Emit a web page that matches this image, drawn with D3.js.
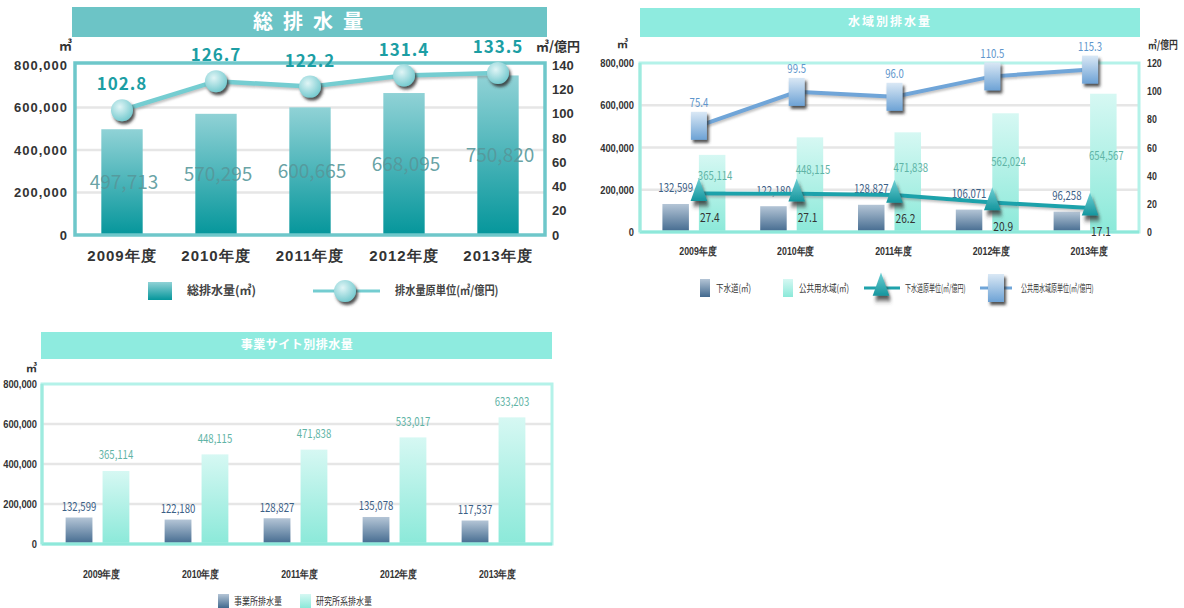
<!DOCTYPE html>
<html>
<head>
<meta charset="utf-8">
<style>
body { margin: 0; background: #fff; }
svg { font-family: "Noto Sans CJK JP", "Noto Sans", sans-serif; }
.grid line { stroke: #e6e6e6; stroke-width: 2.5; }
</style>
</head>
<body>
<script src="https://cdn.jsdelivr.net/npm/d3@7"></script>
<script>

var years = ["2009年度", "2010年度", "2011年度", "2012年度", "2013年度"];

// 総排水量
var totalWater = [497713, 570295, 600665, 668095, 750820];
var totalRatio = [102.8, 126.7, 122.2, 131.4, 133.5];

// 水域別排水量
var sewerWater = [132599, 122180, 128827, 106071, 96258];
var publicWater = [365114, 448115, 471838, 562024, 654567];
var sewerRatio = [27.4, 27.1, 26.2, 20.9, 17.1];
var publicRatio = [75.4, 99.5, 96.0, 110.5, 115.3];

// 事業サイト別排水量
var siteA = [132599, 122180, 128827, 135078, 117537];
var siteB = [365114, 448115, 471838, 533017, 633203];

var volTicks = [0, 200000, 400000, 600000, 800000];
var ratioTicks1 = [0, 20, 40, 60, 80, 100, 120, 140];
var ratioTicks2 = [0, 20, 40, 60, 80, 100, 120];

var fmt = d3.format(",");

var svg = d3.select("body").append("svg")
    .attr("width", 1184)
    .attr("height", 608);

var defs = svg.append("defs");

function vgrad(id, top, bottom) {
  var g = defs.append("linearGradient").attr("id", id)
      .attr("x1", 0).attr("y1", 0).attr("x2", 0).attr("y2", 1);
  g.append("stop").attr("offset", "0%").attr("stop-color", top);
  g.append("stop").attr("offset", "100%").attr("stop-color", bottom);
}
vgrad("tealBar", "#90d2d6", "#05969b");
vgrad("mintBar", "#d6f8f3", "#8be9d9");
vgrad("navyBar", "#b4c5d6", "#42698e");
vgrad("triFill", "#6fd0d4", "#15959d");
vgrad("sqFill", "#dae8f5", "#6da2d5");

var rg = defs.append("radialGradient").attr("id", "ballFill")
    .attr("cx", "40%").attr("cy", "35%").attr("r", "65%");
rg.append("stop").attr("offset", "0%").attr("stop-color", "#e0f5f6");
rg.append("stop").attr("offset", "100%").attr("stop-color", "#78cbd0");

var sh = defs.append("filter").attr("id", "shadow")
    .attr("x", "-50%").attr("y", "-50%").attr("width", "200%").attr("height", "200%");
sh.append("feDropShadow").attr("dx", 2).attr("dy", 3).attr("stdDeviation", 1.5)
    .attr("flood-color", "#333").attr("flood-opacity", 0.85);

var lsh = defs.append("filter").attr("id", "lineShadow")
    .attr("x", "-10%").attr("y", "-50%").attr("width", "120%").attr("height", "200%");
lsh.append("feDropShadow").attr("dx", 1).attr("dy", 2).attr("stdDeviation", 1)
    .attr("flood-color", "#888").attr("flood-opacity", 0.5);

function squeeze(sel, k) {
  sel.each(function() {
    var w = this.getComputedTextLength();
    d3.select(this).attr("textLength", w * k).attr("lengthAdjust", "spacingAndGlyphs");
  });
}

// ---------- chart 1 : 総排水量 ----------
(function() {
  var g = svg.append("g");

  g.append("rect").attr("x", 72).attr("y", 7).attr("width", 475).attr("height", 30)
      .attr("fill", "#6cc4c6");
  g.append("text").attr("x", 313).attr("y", 22).attr("dy", "0.36em")
      .attr("text-anchor", "middle").attr("fill", "#fff")
      .style("font-size", "20px").style("font-weight", "bold").style("letter-spacing", "10px")
      .text("総排水量");

  var x = d3.scaleBand().domain(years).range([75, 545]).paddingInner(0.56).paddingOuter(0.28);
  var y = d3.scaleLinear().domain([0, 800000]).range([235, 65]);
  var y2 = d3.scaleLinear().domain([0, 140]).range([235, 65]);

  g.append("g").attr("class", "grid").selectAll("line")
      .data(volTicks.slice(1, 4)).enter().append("line")
      .attr("x1", 75).attr("x2", 545)
      .attr("y1", function(d) { return y(d); }).attr("y2", function(d) { return y(d); });

  g.selectAll(".bar").data(totalWater).enter().append("rect")
      .attr("class", "bar")
      .attr("x", function(d, i) { return x(years[i]); })
      .attr("width", x.bandwidth())
      .attr("y", function(d) { return y(d); })
      .attr("height", function(d) { return y(0) - y(d); })
      .attr("fill", "url(#tealBar)");

  g.append("rect").attr("x", 75).attr("y", 63).attr("width", 470).attr("height", 172)
      .attr("fill", "none").attr("stroke", "#6ec7ca").attr("stroke-width", 3.5);

  g.selectAll(".vlab").data(totalWater).enter().append("text")
      .attr("x", function(d, i) { return x(years[i]) + x.bandwidth() / 2 + 2; })
      .attr("y", function(d) { return (y(d) + y(0)) / 2; })
      .attr("dy", "0.36em").attr("text-anchor", "middle")
      .attr("fill", "#56979a").attr("fill-opacity", 0.9)
      .style("font-size", "19px")
      .text(function(d) { return fmt(d); });

  var yAxis = d3.axisLeft(y).tickValues(volTicks).tickSize(0).tickPadding(4).tickFormat(fmt);
  var ax = g.append("g").attr("transform", "translate(72,0)").call(yAxis);
  ax.select(".domain").remove();
  ax.selectAll("text").attr("fill", "#333").style("font-size", "13px")
      .style("font-weight", "bold").style("letter-spacing", "1px").attr("font-family", null);

  var yAxis2 = d3.axisRight(y2).tickValues(ratioTicks1).tickSize(0).tickPadding(6);
  var ax2 = g.append("g").attr("transform", "translate(546,0)").call(yAxis2);
  ax2.select(".domain").remove();
  ax2.selectAll("text").attr("fill", "#333").style("font-size", "13px")
      .style("font-weight", "bold").attr("font-family", null);

  var xAxis = d3.axisBottom(x).tickSize(0).tickPadding(0);
  var ax3 = g.append("g").attr("transform", "translate(0,250)").call(xAxis);
  ax3.select(".domain").remove();
  ax3.selectAll("text").attr("fill", "#333").style("font-size", "15px")
      .style("font-weight", "bold").style("letter-spacing", "1px").attr("font-family", null);

  g.append("text").attr("x", 72).attr("y", 50).attr("text-anchor", "end")
      .attr("fill", "#333").style("font-size", "13px").style("font-weight", "bold").text("㎥");
  g.append("text").attr("x", 536).attr("y", 51)
      .attr("fill", "#333").style("font-size", "13px").style("font-weight", "bold").text("㎥/億円");

  var cx = function(i) { return x(years[i]) + x.bandwidth() / 2; };
  var line = d3.line().x(function(d, i) { return cx(i); }).y(function(d) { return y2(d); });
  g.append("path").datum(totalRatio).attr("d", line)
      .attr("fill", "none").attr("stroke", "#74cdd1").attr("stroke-width", 4.5)
      .attr("filter", "url(#lineShadow)");

  g.selectAll(".ball").data(totalRatio).enter().append("circle")
      .attr("cx", function(d, i) { return cx(i); })
      .attr("cy", function(d) { return y2(d); })
      .attr("r", 11).attr("fill", "url(#ballFill)").attr("filter", "url(#shadow)");

  g.selectAll(".rlab").data(totalRatio).enter().append("text")
      .attr("x", function(d, i) { return cx(i); })
      .attr("y", function(d) { return y2(d) - 26; })
      .attr("dy", "0.36em").attr("text-anchor", "middle")
      .attr("fill", "#1c9ea4").style("font-size", "17px").style("font-weight", "bold")
      .style("letter-spacing", "1px")
      .text(function(d) { return d.toFixed(1); });

  // legend
  g.append("rect").attr("x", 148).attr("y", 282).attr("width", 24).attr("height", 18)
      .attr("fill", "url(#tealBar)");
  g.append("text").attr("x", 187).attr("y", 291).attr("dy", "0.36em")
      .attr("fill", "#444").style("font-size", "12px").style("font-weight", "bold")
      .text("総排水量(㎥)");
  g.append("line").attr("x1", 313).attr("x2", 380).attr("y1", 291).attr("y2", 291)
      .attr("stroke", "#74cdd1").attr("stroke-width", 3);
  g.append("circle").attr("cx", 345).attr("cy", 291).attr("r", 11)
      .attr("fill", "url(#ballFill)").attr("filter", "url(#shadow)");
  g.append("text").attr("x", 395).attr("y", 291).attr("dy", "0.36em")
      .attr("fill", "#444").style("font-size", "12px").style("font-weight", "bold")
      .text("排水量原単位(㎥/億円)").call(squeeze, 0.85);
})();

// grouped bar chart helper for charts 2 and 3
function groupedBars(g, cfg) {
  var x0 = d3.scaleBand().domain(years).range(cfg.xr).paddingInner(0.356).paddingOuter(0.178);
  var x1 = d3.scaleBand().domain(["a", "b"]).range([0, x0.bandwidth()]).paddingInner(0.274);
  var y = d3.scaleLinear().domain([0, 800000]).range(cfg.yr);

  g.append("g").attr("class", "grid").selectAll("line")
      .data(volTicks.slice(1, 4)).enter().append("line")
      .attr("x1", cfg.frame[0]).attr("x2", cfg.frame[1])
      .attr("y1", function(d) { return y(d); }).attr("y2", function(d) { return y(d); });

  g.selectAll(".ba").data(cfg.a).enter().append("rect")
      .attr("x", function(d, i) { return x0(years[i]) + x1("a"); })
      .attr("width", x1.bandwidth())
      .attr("y", function(d) { return y(d); })
      .attr("height", function(d) { return y(0) - y(d); })
      .attr("fill", "url(#navyBar)");
  g.selectAll(".bb").data(cfg.b).enter().append("rect")
      .attr("x", function(d, i) { return x0(years[i]) + x1("b"); })
      .attr("width", x1.bandwidth())
      .attr("y", function(d) { return y(d); })
      .attr("height", function(d) { return y(0) - y(d); })
      .attr("fill", "url(#mintBar)");

  var f = cfg.frame;
  g.append("rect").attr("x", f[0]).attr("y", y(800000)).attr("width", f[1] - f[0])
      .attr("height", y(0) - y(800000))
      .attr("fill", "none").attr("stroke", "#b4f2e9").attr("stroke-width", 3);
  g.append("line").attr("x1", f[0]).attr("x2", f[1]).attr("y1", y(0)).attr("y2", y(0))
      .attr("stroke", "#8ee8da").attr("stroke-width", 3);
  g.append("line").attr("x1", f[0]).attr("x2", f[0]).attr("y1", y(800000)).attr("y2", y(0))
      .attr("stroke", "#9eebdf").attr("stroke-width", 3);

  var yAxis = d3.axisLeft(y).tickValues(volTicks).tickSize(0).tickPadding(0).tickFormat(fmt);
  var ax = g.append("g").attr("transform", "translate(" + cfg.axisX + ",0)").call(yAxis);
  ax.select(".domain").remove();
  ax.selectAll("text").attr("fill", "#333").style("font-size", "11px")
      .style("font-weight", "bold").attr("font-family", null).call(squeeze, 0.85);

  var xAxis = d3.axisBottom(x0).tickSize(0).tickPadding(0);
  var ax3 = g.append("g").attr("transform", "translate(4," + cfg.catY + ")").call(xAxis);
  ax3.select(".domain").remove();
  ax3.selectAll("text").attr("fill", "#333").style("font-size", "11px")
      .style("font-weight", "bold").attr("font-family", null).call(squeeze, 0.8);

  return { x0: x0, x1: x1, y: y };
}

// ---------- chart 2 : 水域別排水量 ----------
(function() {
  var g = svg.append("g");

  g.append("rect").attr("x", 640).attr("y", 8).attr("width", 500).attr("height", 29)
      .attr("fill", "#8eebdf");
  g.append("text").attr("x", 890).attr("y", 22).attr("dy", "0.36em")
      .attr("text-anchor", "middle").attr("fill", "#fff")
      .style("font-size", "12px").style("font-weight", "bold").style("letter-spacing", "2px")
      .text("水域別排水量");

  var s = groupedBars(g, {
    xr: [645, 1134], yr: [232, 63], frame: [640, 1139], axisX: 634, catY: 247,
    a: sewerWater, b: publicWater
  });
  var x0 = s.x0, x1 = s.x1, y = s.y;

  var y2 = d3.scaleLinear().domain([0, 120]).range([232, 63]);
  var yAxis2 = d3.axisRight(y2).tickValues(ratioTicks2).tickSize(0).tickPadding(8);
  var ax2 = g.append("g").attr("transform", "translate(1139,0)").call(yAxis2);
  ax2.select(".domain").remove();
  ax2.selectAll("text").attr("fill", "#333").style("font-size", "11px")
      .style("font-weight", "bold").attr("font-family", null).call(squeeze, 0.8);

  g.append("text").attr("x", 628).attr("y", 48).attr("text-anchor", "end")
      .attr("fill", "#333").style("font-size", "11px").style("font-weight", "bold").text("㎥");
  g.append("text").attr("x", 1148).attr("y", 49)
      .attr("fill", "#333").style("font-size", "11px").style("font-weight", "bold")
      .text("㎥/億円").call(squeeze, 0.8);

  // bar labels
  g.selectAll(".la").data(sewerWater).enter().append("text")
      .attr("x", function(d, i) { return x0(years[i]) + x1("a") + x1.bandwidth() / 2; })
      .attr("y", function(d) { return y(d) - 16; })
      .attr("dy", "0.36em").attr("text-anchor", "middle")
      .attr("fill", "#3b6086").style("font-size", "12px")
      .text(function(d) { return fmt(d); }).call(squeeze, 0.8);
  g.selectAll(".lb").data(publicWater).enter().append("text")
      .attr("x", function(d, i) { return x0(years[i]) + x1("b") + x1.bandwidth() / 2 + 3; })
      .attr("y", function(d) { return 0.33 * y(d) + 0.67 * y(220000); })
      .attr("dy", "0.36em").attr("text-anchor", "middle")
      .attr("fill", "#5fb4a6").style("font-size", "12px")
      .text(function(d) { return fmt(d); }).call(squeeze, 0.8);

  var px = function(i) { return x0(years[i]) + x0.bandwidth() / 2 + 5; };

  // public water ratio (blue, squares)
  var lineB = d3.line().x(function(d, i) { return px(i); }).y(function(d) { return y2(d); });
  g.append("path").datum(publicRatio).attr("d", lineB)
      .attr("fill", "none").attr("stroke", "#6fa5d8").attr("stroke-width", 4)
      .attr("filter", "url(#lineShadow)");
  g.selectAll(".sq").data(publicRatio).enter().append("rect")
      .attr("x", function(d, i) { return px(i) - 8; })
      .attr("y", function(d) { return y2(d) - 14; })
      .attr("width", 16).attr("height", 28)
      .attr("fill", "url(#sqFill)").attr("filter", "url(#shadow)");
  g.selectAll(".lsq").data(publicRatio).enter().append("text")
      .attr("x", function(d, i) { return px(i); })
      .attr("y", function(d) { return y2(d) - 23; })
      .attr("dy", "0.36em").attr("text-anchor", "middle")
      .attr("fill", "#5e96cc").style("font-size", "12px")
      .text(function(d) { return d.toFixed(1); }).call(squeeze, 0.8);

  // sewer ratio (teal, triangles)
  var lineA = d3.line().x(function(d, i) { return px(i); }).y(function(d) { return y2(d); });
  g.append("path").datum(sewerRatio).attr("d", lineA)
      .attr("fill", "none").attr("stroke", "#1fa2ab").attr("stroke-width", 4)
      .attr("filter", "url(#lineShadow)");
  var tri = d3.symbol().type(d3.symbolTriangle).size(120);
  g.selectAll(".tri").data(sewerRatio).enter().append("path")
      .attr("d", tri)
      .attr("transform", function(d, i) { return "translate(" + px(i) + "," + y2(d) + ") scale(1,1.6)"; })
      .attr("fill", "url(#triFill)").attr("filter", "url(#shadow)");
  g.selectAll(".ltri").data(sewerRatio).enter().append("text")
      .attr("x", function(d, i) { return px(i) + 1; })
      .attr("y", function(d) { return y2(d) + 24; })
      .attr("dy", "0.36em")
      .attr("fill", "#333").style("font-size", "12px")
      .text(function(d) { return d.toFixed(1); }).call(squeeze, 0.85);

  // legend
  var ly = 288;
  g.append("rect").attr("x", 700).attr("y", ly - 9).attr("width", 10).attr("height", 18)
      .attr("fill", "url(#navyBar)");
  g.append("text").attr("x", 716).attr("y", ly).attr("dy", "0.36em")
      .attr("fill", "#333").style("font-size", "10px").text("下水道(㎥)").call(squeeze, 0.75);
  g.append("rect").attr("x", 783).attr("y", ly - 9).attr("width", 10).attr("height", 18)
      .attr("fill", "url(#mintBar)");
  g.append("text").attr("x", 799).attr("y", ly).attr("dy", "0.36em")
      .attr("fill", "#333").style("font-size", "10px").text("公共用水域(㎥)").call(squeeze, 0.75);
  g.append("line").attr("x1", 864).attr("x2", 900).attr("y1", ly).attr("y2", ly)
      .attr("stroke", "#1fa2ab").attr("stroke-width", 3);
  g.append("path").attr("d", tri)
      .attr("transform", "translate(881," + ly + ") scale(1,1.6)")
      .attr("fill", "url(#triFill)").attr("filter", "url(#shadow)");
  g.append("text").attr("x", 905).attr("y", ly).attr("dy", "0.36em")
      .attr("fill", "#333").style("font-size", "10px").text("下水道原単位(㎥/億円)").call(squeeze, 0.6);
  g.append("line").attr("x1", 980).attr("x2", 1012).attr("y1", ly).attr("y2", ly)
      .attr("stroke", "#6fa5d8").attr("stroke-width", 3);
  g.append("rect").attr("x", 988).attr("y", ly - 14).attr("width", 16).attr("height", 28)
      .attr("fill", "url(#sqFill)").attr("filter", "url(#shadow)");
  g.append("text").attr("x", 1021).attr("y", ly).attr("dy", "0.36em")
      .attr("fill", "#333").style("font-size", "10px").text("公共用水域原単位(㎥/億円)").call(squeeze, 0.6);
})();

// ---------- chart 3 : 事業サイト別排水量 ----------
(function() {
  var g = svg.append("g");

  g.append("rect").attr("x", 41).attr("y", 332).attr("width", 511).attr("height", 27)
      .attr("fill", "#8eebdf");
  g.append("text").attr("x", 297).attr("y", 345).attr("dy", "0.36em")
      .attr("text-anchor", "middle").attr("fill", "#fff")
      .style("font-size", "12px").style("font-weight", "bold").style("letter-spacing", "0.5px")
      .text("事業サイト別排水量");

  var s = groupedBars(g, {
    xr: [48, 543], yr: [544, 384], frame: [42, 552], axisX: 37, catY: 570,
    a: siteA, b: siteB
  });
  var x0 = s.x0, x1 = s.x1, y = s.y;

  g.append("text").attr("x", 37).attr("y", 372).attr("text-anchor", "end")
      .attr("fill", "#333").style("font-size", "11px").style("font-weight", "bold").text("㎥");

  g.selectAll(".la").data(siteA).enter().append("text")
      .attr("x", function(d, i) { return x0(years[i]) + x1("a") + x1.bandwidth() / 2; })
      .attr("y", function(d) { return y(d) - 11; })
      .attr("dy", "0.36em").attr("text-anchor", "middle")
      .attr("fill", "#3b6086").style("font-size", "12px")
      .text(function(d) { return fmt(d); }).call(squeeze, 0.8);
  g.selectAll(".lb").data(siteB).enter().append("text")
      .attr("x", function(d, i) { return x0(years[i]) + x1("b") + x1.bandwidth() / 2; })
      .attr("y", function(d) { return y(d) - 16; })
      .attr("dy", "0.36em").attr("text-anchor", "middle")
      .attr("fill", "#5fb4a6").style("font-size", "12px")
      .text(function(d) { return fmt(d); }).call(squeeze, 0.8);

  var ly = 601;
  g.append("rect").attr("x", 218).attr("y", ly - 7).attr("width", 11).attr("height", 14)
      .attr("fill", "url(#navyBar)");
  g.append("text").attr("x", 234).attr("y", ly).attr("dy", "0.36em")
      .attr("fill", "#333").style("font-size", "10px").text("事業所排水量").call(squeeze, 0.8);
  g.append("rect").attr("x", 300).attr("y", ly - 7).attr("width", 11).attr("height", 14)
      .attr("fill", "url(#mintBar)");
  g.append("text").attr("x", 316).attr("y", ly).attr("dy", "0.36em")
      .attr("fill", "#333").style("font-size", "10px").text("研究所系排水量").call(squeeze, 0.8);
})();

</script>
</body>
</html>
